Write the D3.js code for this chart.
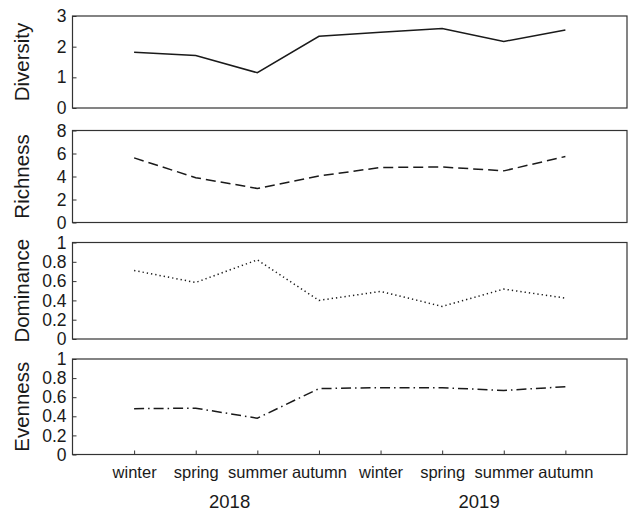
<!DOCTYPE html>
<html>
<head>
<meta charset="utf-8">
<script src="https://cdn.jsdelivr.net/npm/d3@7"></script>
<style>
  body { margin: 0; background: #fff; }
  text { font-family: "Liberation Sans", Arial, sans-serif; fill: #1a1a1a; }
</style>
</head>
<body>
<div id="chart"></div>
<script>
var seasons = ["winter", "spring", "summer", "autumn", "winter", "spring", "summer", "autumn"];
var years = ["2018", "2019"];
var yearPos = [2.55, 6.6];

var diversity = [1.82, 1.71, 1.15, 2.34, 2.47, 2.59, 2.17, 2.54];
var richness = [5.62, 3.9, 2.96, 4.05, 4.78, 4.83, 4.49, 5.74];
var dominance = [0.71, 0.586, 0.82, 0.40, 0.493, 0.338, 0.517, 0.424];
var evenness = [0.48, 0.485, 0.38, 0.69, 0.70, 0.70, 0.67, 0.71];

var divTicks = [0, 1, 2, 3];
var richTicks = [0, 2, 4, 6, 8];
var fracTicks = [0, 0.2, 0.4, 0.6, 0.8, 1];

var width = 631;
var height = 512;
var left = 72.5, right = 627;

var panels = [
  {name: "Diversity", values: diversity, ticks: divTicks, max: 3, top: 16, bottom: 108, dash: null},
  {name: "Richness", values: richness, ticks: richTicks, max: 8, top: 130.5, bottom: 222.5, dash: "10,5"},
  {name: "Dominance", values: dominance, ticks: fracTicks, max: 1, top: 242.5, bottom: 339, dash: "1.3,3"},
  {name: "Evenness", values: evenness, ticks: fracTicks, max: 1, top: 359, bottom: 454.5, dash: "10,4,1.5,4"}
];

var svg = d3.select("#chart")
  .append("svg")
  .attr("width", width)
  .attr("height", height);

var x = d3.scaleLinear().domain([0, 9]).range([left, right]);
var fmt = d3.format("~g");

panels.forEach(function(p, k) {
  var y = d3.scaleLinear().domain([0, p.max]).range([p.bottom, p.top]);
  var g = svg.append("g");

  // inward y ticks
  var yAxis = g.append("g")
    .attr("transform", "translate(" + left + ",0)")
    .call(d3.axisLeft(y).tickValues(p.ticks).tickSize(-4).tickPadding(6).tickFormat(fmt));
  yAxis.select(".domain").remove();
  yAxis.selectAll("line").attr("stroke", "#333");
  yAxis.selectAll("text")
    .attr("font-size", 17.5)
    .attr("font-family", "Liberation Sans, Arial, sans-serif")
    .attr("fill", "#1a1a1a");

  if (k === panels.length - 1) {
    var xAxis = g.append("g")
      .attr("transform", "translate(0," + p.bottom + ")")
      .call(d3.axisBottom(x).tickValues(d3.range(1, 9)).tickSize(-4).tickPadding(12)
        .tickFormat(function(d) { return seasons[d - 1]; }));
    xAxis.select(".domain").remove();
    xAxis.selectAll("line").attr("stroke", "#333");
    xAxis.selectAll("text")
      .attr("font-size", 16.5)
      .attr("font-family", "Liberation Sans, Arial, sans-serif")
      .attr("fill", "#1a1a1a");

    g.selectAll(".year")
      .data(years)
      .enter()
      .append("text")
      .attr("class", "year")
      .attr("x", function(d, i) { return x(yearPos[i]); })
      .attr("y", 508)
      .attr("text-anchor", "middle")
      .attr("font-size", 18.5)
      .text(function(d) { return d; });
  }

  g.append("rect")
    .attr("x", left)
    .attr("y", p.top)
    .attr("width", right - left)
    .attr("height", p.bottom - p.top)
    .attr("fill", "none")
    .attr("stroke", "#333")
    .attr("stroke-width", 1.2);

  var line = d3.line()
    .x(function(d, i) { return x(i + 1); })
    .y(function(d) { return y(d); });

  g.append("path")
    .datum(p.values)
    .attr("d", line)
    .attr("fill", "none")
    .attr("stroke", "#1a1a1a")
    .attr("stroke-width", 1.5)
    .attr("stroke-dasharray", p.dash);

  g.append("text")
    .attr("transform", "translate(28.5," + (p.top + p.bottom) / 2 + ")rotate(-90)")
    .attr("text-anchor", "middle")
    .attr("font-size", 20.5)
    .text(p.name);
});
</script>
</body>
</html>
